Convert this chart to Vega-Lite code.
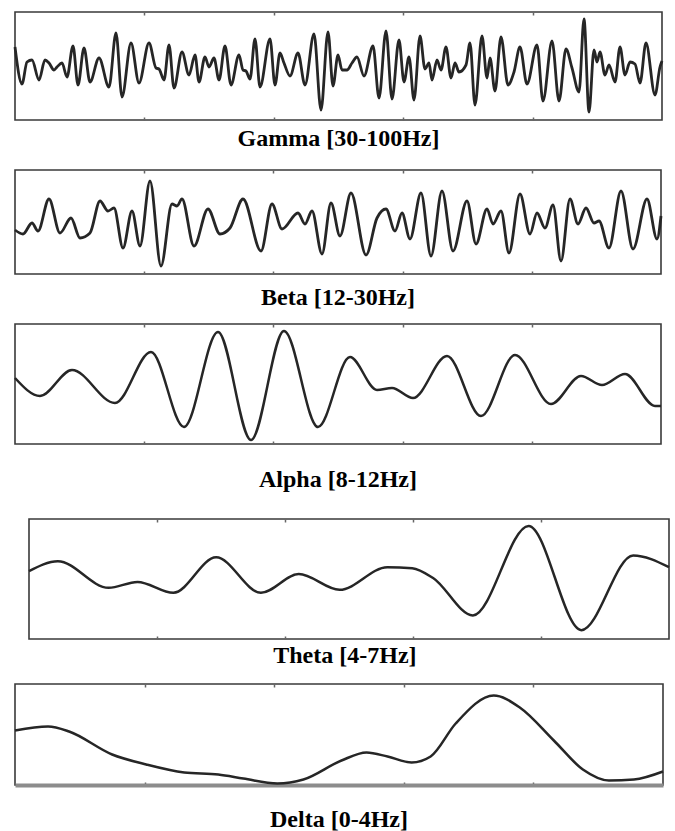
{
  "$schema": "https://vega.github.io/schema/vega-lite/v6.json",
  "background": "white",
  "padding": {"left": 8, "top": 10, "right": 0, "bottom": 0},
  "spacing": 0,
  "config": {
    "view": {"stroke": "#3a3a3a", "strokeWidth": 1.6},
    "axis": {"grid": false, "labels": false, "domain": false, "title": null, "tickColor": "#666", "tickSize": -3, "tickWidth": 1.5},
    "title": {"font": "Liberation Serif", "fontSize": 24, "fontWeight": "bold", "color": "#000", "orient": "bottom", "anchor": "middle"},
    "line": {"color": "#262626", "strokeWidth": 2.5, "interpolate": "monotone"}
  },
  "datasets": {
    "gamma": [
      {"t":0,"v":19},{"t":7,"v":-18},{"t":12,"v":4},{"t":17,"v":6},{"t":24,"v":-14},{"t":30,"v":6},{"t":34,"v":3},{"t":39,"v":-4},{"t":42,"v":-1},{"t":47,"v":3},{"t":52,"v":-11},{"t":58,"v":20},{"t":63,"v":-19},{"t":69,"v":18},{"t":75,"v":-16},{"t":84,"v":8},{"t":94,"v":-21},{"t":101,"v":33},{"t":107,"v":-31},{"t":116,"v":23},{"t":124,"v":-17},{"t":134,"v":23},{"t":141,"v":-2},{"t":144,"v":-3},{"t":149,"v":-14},{"t":154,"v":21},{"t":159,"v":-22},{"t":167,"v":14},{"t":174,"v":-9},{"t":180,"v":11},{"t":184,"v":-16},{"t":190,"v":9},{"t":194,"v":-1},{"t":199,"v":8},{"t":204,"v":-14},{"t":210,"v":20},{"t":216,"v":-19},{"t":224,"v":11},{"t":228,"v":-4},{"t":231,"v":-5},{"t":235,"v":-13},{"t":240,"v":27},{"t":245,"v":-21},{"t":255,"v":27},{"t":260,"v":-19},{"t":265,"v":13},{"t":269,"v":3},{"t":275,"v":-10},{"t":283,"v":13},{"t":290,"v":-19},{"t":299,"v":32},{"t":306,"v":-44},{"t":313,"v":34},{"t":318,"v":-20},{"t":323,"v":11},{"t":327,"v":-4},{"t":332,"v":-4},{"t":337,"v":3},{"t":342,"v":9},{"t":349,"v":-10},{"t":358,"v":20},{"t":364,"v":-32},{"t":371,"v":35},{"t":377,"v":-33},{"t":384,"v":26},{"t":389,"v":-16},{"t":394,"v":9},{"t":399,"v":-34},{"t":405,"v":30},{"t":410,"v":-3},{"t":414,"v":3},{"t":417,"v":-14},{"t":422,"v":6},{"t":426,"v":-4},{"t":431,"v":19},{"t":436,"v":-12},{"t":440,"v":3},{"t":444,"v":-6},{"t":451,"v":1},{"t":455,"v":23},{"t":460,"v":-39},{"t":467,"v":30},{"t":472,"v":-12},{"t":475,"v":8},{"t":480,"v":-25},{"t":486,"v":29},{"t":493,"v":-19},{"t":499,"v":-6},{"t":505,"v":19},{"t":512,"v":-18},{"t":522,"v":21},{"t":528,"v":-35},{"t":537,"v":25},{"t":544,"v":-35},{"t":551,"v":17},{"t":557,"v":-2},{"t":564,"v":-26},{"t":569,"v":47},{"t":574,"v":-46},{"t":579,"v":16},{"t":582,"v":4},{"t":585,"v":14},{"t":590,"v":-9},{"t":594,"v":1},{"t":600,"v":-16},{"t":605,"v":19},{"t":610,"v":-9},{"t":615,"v":4},{"t":620,"v":2},{"t":625,"v":-17},{"t":631,"v":23},{"t":640,"v":-29},{"t":645,"v":-1},{"t":647,"v":5}
    ],
    "beta": [
      {"t":0,"v":-8},{"t":8,"v":-12},{"t":17,"v":-1},{"t":23,"v":-9},{"t":34,"v":23},{"t":45,"v":-11},{"t":56,"v":4},{"t":65,"v":-16},{"t":75,"v":-11},{"t":85,"v":21},{"t":93,"v":11},{"t":99,"v":14},{"t":108,"v":-26},{"t":117,"v":11},{"t":125,"v":-24},{"t":135,"v":41},{"t":146,"v":-44},{"t":157,"v":18},{"t":162,"v":16},{"t":167,"v":23},{"t":179,"v":-24},{"t":193,"v":13},{"t":205,"v":-12},{"t":215,"v":-6},{"t":228,"v":23},{"t":246,"v":-29},{"t":257,"v":18},{"t":267,"v":-7},{"t":283,"v":9},{"t":290,"v":-2},{"t":297,"v":11},{"t":307,"v":-32},{"t":316,"v":19},{"t":325,"v":-14},{"t":336,"v":29},{"t":351,"v":-33},{"t":362,"v":4},{"t":371,"v":13},{"t":380,"v":-9},{"t":387,"v":9},{"t":395,"v":-17},{"t":406,"v":29},{"t":416,"v":-34},{"t":427,"v":31},{"t":438,"v":-29},{"t":452,"v":21},{"t":461,"v":-22},{"t":472,"v":13},{"t":478,"v":-2},{"t":486,"v":11},{"t":494,"v":-31},{"t":505,"v":28},{"t":515,"v":-12},{"t":522,"v":9},{"t":530,"v":-6},{"t":538,"v":17},{"t":546,"v":-39},{"t":555,"v":23},{"t":563,"v":-2},{"t":571,"v":14},{"t":579,"v":-1},{"t":584,"v":1},{"t":594,"v":-26},{"t":606,"v":31},{"t":618,"v":-27},{"t":632,"v":23},{"t":642,"v":-17},{"t":646,"v":6}
    ],
    "alpha": [
      {"t":0,"v":6},{"t":25,"v":-12},{"t":57,"v":14},{"t":100,"v":-19},{"t":136,"v":32},{"t":169,"v":-43},{"t":203,"v":52},{"t":236,"v":-56},{"t":269,"v":53},{"t":303,"v":-43},{"t":335,"v":27},{"t":362,"v":-6},{"t":377,"v":-4},{"t":398,"v":-14},{"t":432,"v":28},{"t":466,"v":-32},{"t":500,"v":29},{"t":536,"v":-20},{"t":566,"v":8},{"t":587,"v":-1},{"t":610,"v":10},{"t":640,"v":-22},{"t":646,"v":-22}
    ],
    "theta": [
      {"t":0,"v":8},{"t":29,"v":18},{"t":80,"v":-9},{"t":109,"v":-3},{"t":145,"v":-14},{"t":188,"v":22},{"t":233,"v":-14},{"t":271,"v":5},{"t":312,"v":-11},{"t":360,"v":12},{"t":385,"v":11},{"t":406,"v":1},{"t":446,"v":-37},{"t":502,"v":54},{"t":555,"v":-52},{"t":607,"v":24},{"t":643,"v":12}
    ],
    "delta": [
      {"t":0,"v":4},{"t":33,"v":8},{"t":54,"v":3},{"t":97,"v":-20},{"t":131,"v":-30},{"t":169,"v":-38},{"t":203,"v":-40},{"t":228,"v":-44},{"t":262,"v":-49},{"t":288,"v":-45},{"t":326,"v":-26},{"t":351,"v":-18},{"t":372,"v":-22},{"t":396,"v":-28},{"t":415,"v":-22},{"t":440,"v":11},{"t":478,"v":39},{"t":504,"v":27},{"t":538,"v":-6},{"t":567,"v":-35},{"t":593,"v":-46},{"t":618,"v":-45},{"t":647,"v":-37}
    ]
  },
  "vconcat": [
    {
      "width": 647, "height": 108,
      "title": {"text": "Gamma [30-100Hz]", "offset": 6},
      "data": {"name": "gamma"},
      "layer": [
        {"mark": {"type": "line", "strokeWidth": 2.8},
         "encoding": {
           "x": {"field": "t", "type": "quantitative", "scale": {"domain": [0, 647], "nice": false, "zero": false}, "axis": {"orient": "bottom", "values": [129.4, 258.8, 388.2, 517.6], "minExtent": 0, "maxExtent": 0}},
           "y": {"field": "v", "type": "quantitative", "scale": {"domain": [-54, 54], "nice": false, "zero": false}, "axis": null}}},
        {"mark": {"type": "line", "opacity": 0},
         "encoding": {
           "x": {"field": "t", "type": "quantitative", "axis": {"orient": "top", "values": [129.4, 258.8, 388.2, 517.6], "minExtent": 0, "maxExtent": 0}},
           "y": {"field": "v", "type": "quantitative", "axis": null}}}
      ],
      "resolve": {"axis": {"x": "independent"}}
    },
    {
      "width": 646, "height": 104,
      "title": {"text": "Beta [12-30Hz]", "offset": 11},
      "data": {"name": "beta"},
      "layer": [
        {"mark": {"type": "line", "strokeWidth": 2.8},
         "encoding": {
           "x": {"field": "t", "type": "quantitative", "scale": {"domain": [0, 646], "nice": false, "zero": false}, "axis": {"orient": "bottom", "values": [129.2, 258.4, 387.6, 516.8], "minExtent": 0, "maxExtent": 0}},
           "y": {"field": "v", "type": "quantitative", "scale": {"domain": [-52, 52], "nice": false, "zero": false}, "axis": null}}},
        {"mark": {"type": "line", "opacity": 0},
         "encoding": {
           "x": {"field": "t", "type": "quantitative", "axis": {"orient": "top", "values": [129.2, 258.4, 387.6, 516.8], "minExtent": 16.5, "maxExtent": 16.5}},
           "y": {"field": "v", "type": "quantitative", "axis": null}}}
      ],
      "resolve": {"axis": {"x": "independent"}}
    },
    {
      "width": 646, "height": 120,
      "title": {"text": "Alpha [8-12Hz]", "offset": 23},
      "data": {"name": "alpha"},
      "layer": [
        {"mark": {"type": "line"},
         "encoding": {
           "x": {"field": "t", "type": "quantitative", "scale": {"domain": [0, 646], "nice": false, "zero": false}, "axis": {"orient": "bottom", "values": [129.2, 258.4, 387.6, 516.8], "minExtent": 0, "maxExtent": 0}},
           "y": {"field": "v", "type": "quantitative", "scale": {"domain": [-60, 60], "nice": false, "zero": false}, "axis": null}}},
        {"mark": {"type": "line", "opacity": 0},
         "encoding": {
           "x": {"field": "t", "type": "quantitative", "axis": {"orient": "top", "values": [129.2, 258.4, 387.6, 516.8], "minExtent": 12, "maxExtent": 12}},
           "y": {"field": "v", "type": "quantitative", "axis": null}}}
      ],
      "resolve": {"axis": {"x": "independent"}}
    },
    {
      "title": {"text": "Theta [4-7Hz]", "offset": 3},
      "spacing": 7,
      "hconcat": [
        {
          "width": 1, "height": 1,
          "view": {"stroke": null},
          "data": {"values": []},
          "mark": {"type": "point", "opacity": 0},
          "encoding": {"x": {"field": "t", "type": "quantitative", "axis": null}}
        },
        {
          "width": 640, "height": 120,
          "data": {"name": "theta"},
          "layer": [
            {"mark": {"type": "line"},
             "encoding": {
               "x": {"field": "t", "type": "quantitative", "scale": {"domain": [0, 643], "nice": false, "zero": false}, "axis": {"orient": "bottom", "values": [128.6, 257.2, 385.8, 514.4], "minExtent": 0, "maxExtent": 0}},
               "y": {"field": "v", "type": "quantitative", "scale": {"domain": [-61, 61], "nice": false, "zero": false}, "axis": null}}},
            {"mark": {"type": "line", "opacity": 0},
             "encoding": {
               "x": {"field": "t", "type": "quantitative", "axis": {"orient": "top", "values": [128.6, 257.2, 385.8, 514.4], "minExtent": 24.7, "maxExtent": 24.7}},
               "y": {"field": "v", "type": "quantitative", "axis": null}}}
          ],
          "resolve": {"axis": {"x": "independent"}}
        }
      ]
    },
    {
      "width": 648, "height": 101,
      "title": {"text": "Delta [0-4Hz]", "offset": 19},
      "data": {"name": "delta"},
      "layer": [
        {"mark": {"type": "line"},
         "encoding": {
           "x": {"field": "t", "type": "quantitative", "scale": {"domain": [0, 647], "nice": false, "zero": false}, "axis": {"orient": "bottom", "values": [129.4, 258.8, 388.2, 517.6], "minExtent": 0, "maxExtent": 0, "domain": true, "domainColor": "#8c8c8c", "domainWidth": 4}},
           "y": {"field": "v", "type": "quantitative", "scale": {"domain": [-50.5, 50.5], "nice": false, "zero": false}, "axis": null}}},
        {"mark": {"type": "line", "opacity": 0},
         "encoding": {
           "x": {"field": "t", "type": "quantitative", "axis": {"orient": "top", "values": [129.4, 258.8, 388.2, 517.6], "minExtent": 14.5, "maxExtent": 14.5}},
           "y": {"field": "v", "type": "quantitative", "axis": null}}}
      ],
      "resolve": {"axis": {"x": "independent"}}
    }
  ]
}
